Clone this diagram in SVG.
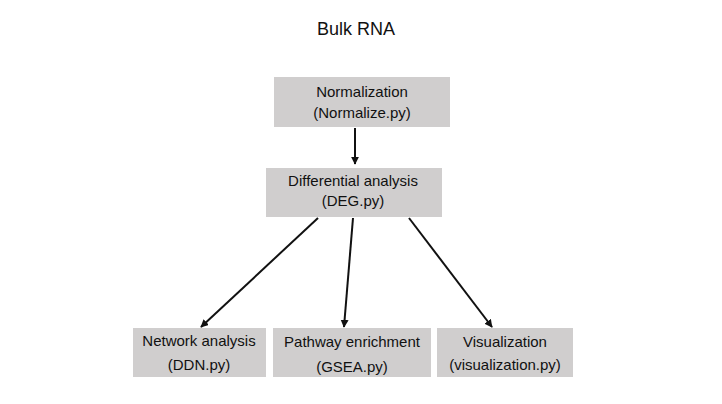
<svg xmlns="http://www.w3.org/2000/svg" width="722" height="404" viewBox="0 0 722 404">
<defs>
<style>
.box{fill:#d0cece;}
.t{font-family:"Liberation Sans",Arial,sans-serif;font-size:15px;fill:#111;text-anchor:middle;}
.title{font-family:"Liberation Sans",Arial,sans-serif;font-size:18px;fill:#111;text-anchor:middle;}
.c{stroke:#111;stroke-width:2;fill:none;marker-end:url(#ah);}
</style>
<marker id="ah" viewBox="0 0 10 10" refX="9" refY="5" markerWidth="4" markerHeight="4" orient="auto" markerUnits="strokeWidth">
<path d="M0,0 L10,5 L0,10 z" fill="#111"/>
</marker>
</defs>
<rect width="722" height="404" fill="#fff"/>
<text class="title" x="356" y="35">Bulk RNA</text>
<g id="connectors">
<line class="c" x1="355" y1="128" x2="355" y2="164"/>
<line class="c" x1="318" y1="218" x2="201" y2="327"/>
<line class="c" x1="353" y1="218" x2="344" y2="327"/>
<line class="c" x1="409" y1="218" x2="492" y2="327"/>
</g>
<g id="normalization">
<rect class="box" x="274" y="77" width="176" height="50"/>
<text class="t" x="362" y="97">Normalization</text>
<text class="t" x="362" y="118">(Normalize.py)</text>
</g>
<g id="deg">
<rect class="box" x="266" y="168" width="176" height="49"/>
<text class="t" x="353" y="186">Differential analysis</text>
<text class="t" x="353" y="206">(DEG.py)</text>
</g>
<g id="network">
<rect class="box" x="133" y="328" width="133" height="49"/>
<text class="t" x="199" y="346">Network analysis</text>
<text class="t" x="199" y="370">(DDN.py)</text>
</g>
<g id="pathway">
<rect class="box" x="273" y="328" width="158" height="49"/>
<text class="t" x="352" y="347">Pathway enrichment</text>
<text class="t" x="352" y="372">(GSEA.py)</text>
</g>
<g id="visualization">
<rect class="box" x="437" y="328" width="136" height="49"/>
<text class="t" x="505" y="347">Visualization</text>
<text class="t" x="505" y="370">(visualization.py)</text>
</g>
</svg>
